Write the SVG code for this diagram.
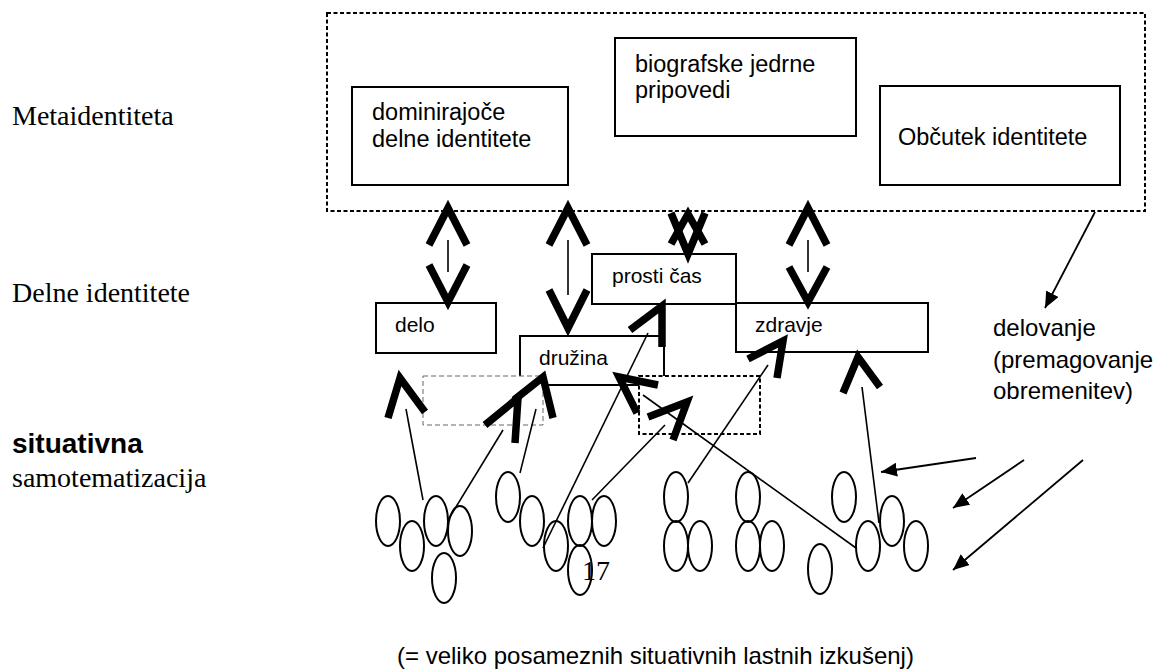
<svg xmlns="http://www.w3.org/2000/svg" width="1159" height="671" viewBox="0 0 1159 671">
<defs>
<style>
.box{fill:#fff;stroke:#000;stroke-width:2}
.dot{fill:#fff;stroke:#000;stroke-width:2;stroke-dasharray:4 2.5}
.dotg{fill:#fff;stroke:#666;stroke-width:1;stroke-dasharray:5 3}
.a{font-family:"Liberation Sans",Arial,sans-serif;fill:#000}
.t{font-family:"Liberation Serif","Times New Roman",serif;fill:#000;font-size:28px}
.chev{fill:none;stroke:#000;stroke-width:7.5;stroke-linejoin:miter;stroke-linecap:butt}
.thin{fill:none;stroke:#000;stroke-width:1.6}
.arr{fill:none;stroke:#000;stroke-width:1.8;marker-end:url(#tri)}
.ell{fill:none;stroke:#000;stroke-width:2}
</style>
<marker id="tri" markerUnits="userSpaceOnUse" markerWidth="18" markerHeight="14" refX="16" refY="7" orient="auto">
<path d="M0,0 L16,7 L0,14 Z" fill="#000"/>
</marker>
</defs>
<rect width="1159" height="671" fill="#fff"/>

<g id="labels">
<text class="t" x="12" y="125">Metaidentiteta</text>
<text class="t" x="12" y="302">Delne identitete</text>
<text class="a" x="12" y="453" font-size="28" font-weight="bold">situativna</text>
<text class="t" x="12" y="487">samotematizacija</text>
</g>

<g id="metaidentiteta">
<rect class="dot" x="327" y="13" width="818" height="198"/>
</g>
<g id="dominirajoce">
<rect class="box" x="352" y="87" width="216" height="98"/>
<text class="a" font-size="23.5" x="372" y="120">dominirajoče</text>
<text class="a" font-size="23.5" x="372" y="147">delne identitete</text>
</g>
<g id="biografske">
<rect class="box" x="615" y="38" width="241" height="98"/>
<text class="a" font-size="23.5" x="635" y="72">biografske jedrne</text>
<text class="a" font-size="23.5" x="635" y="98">pripovedi</text>
</g>
<g id="obcutek">
<rect class="box" x="880" y="86" width="240" height="99"/>
<text class="a" font-size="23.5" x="898" y="145">Občutek identitete</text>
</g>

<g id="delo">
<rect class="box" x="376" y="303" width="120" height="50"/>
<text class="a" font-size="21" x="395" y="332">delo</text>
</g>
<g id="druzina">
<rect class="box" x="520" y="336" width="144" height="49"/>
<text class="a" font-size="21" x="539" y="365">družina</text>
</g>
<g id="prosti">
<rect class="box" x="592" y="254" width="144" height="50"/>
<text class="a" font-size="21" x="612" y="283">prosti čas</text>
</g>
<g id="zdravje">
<rect class="box" x="736" y="303" width="192" height="49"/>
<text class="a" font-size="21" x="755" y="332">zdravje</text>
</g>
<g id="situ1">
<rect class="dotg" x="423" y="376" width="120" height="49"/>
</g>
<g id="situ2">
<rect class="dot" x="639" y="376" width="121" height="58"/>
</g>

<g id="delovanje">
<text class="a" font-size="24" x="993" y="336">delovanje</text>
<text class="a" font-size="24" x="993" y="368">(premagovanje</text>
<text class="a" font-size="24" x="993" y="399">obremenitev)</text>
</g>

<g id="experiences">
<ellipse class="ell" cx="388" cy="521" rx="12" ry="25"/>
<ellipse class="ell" cx="412" cy="546" rx="12" ry="25"/>
<ellipse class="ell" cx="436" cy="521" rx="12" ry="25"/>
<ellipse class="ell" cx="460" cy="531" rx="12" ry="25"/>
<ellipse class="ell" cx="444" cy="578" rx="12" ry="25"/>
<ellipse class="ell" cx="508" cy="497" rx="12" ry="25"/>
<ellipse class="ell" cx="532" cy="521" rx="12" ry="25"/>
<ellipse class="ell" cx="556" cy="546" rx="12" ry="25"/>
<ellipse class="ell" cx="580" cy="521" rx="12" ry="25"/>
<ellipse class="ell" cx="604" cy="521" rx="12" ry="25"/>
<ellipse class="ell" cx="580" cy="570" rx="12" ry="25"/>
<ellipse class="ell" cx="676" cy="497" rx="12" ry="25"/>
<ellipse class="ell" cx="676" cy="546" rx="12" ry="25"/>
<ellipse class="ell" cx="700" cy="546" rx="12" ry="25"/>
<ellipse class="ell" cx="748" cy="497" rx="12" ry="25"/>
<ellipse class="ell" cx="748" cy="546" rx="12" ry="25"/>
<ellipse class="ell" cx="772" cy="546" rx="12" ry="25"/>
<ellipse class="ell" cx="820" cy="569" rx="12" ry="25"/>
<ellipse class="ell" cx="844" cy="497" rx="12" ry="25"/>
<ellipse class="ell" cx="868" cy="546" rx="12" ry="25"/>
<ellipse class="ell" cx="892" cy="521" rx="12" ry="25"/>
<ellipse class="ell" cx="916" cy="546" rx="12" ry="25"/>
</g>

<g id="connectors">
<!-- double arrows between levels -->
<polyline class="chev" points="429,245 448,208 467,245"/>
<line class="thin" x1="448" y1="240" x2="448" y2="272"/>
<polyline class="chev" points="429,265 448,302 467,265"/>

<polyline class="chev" points="549,245 568,208 587,245"/>
<line class="thin" x1="568" y1="240" x2="568" y2="295"/>
<polyline class="chev" points="549,290 568,328 587,290"/>

<polyline class="chev" points="671,244 688,214 705,244"/>
<polyline class="chev" points="671,213 688,254 705,213"/>

<polyline class="chev" points="789,245 808,208 827,245"/>
<line class="thin" x1="808" y1="240" x2="808" y2="272"/>
<polyline class="chev" points="789,267 808,302 827,267"/>

<!-- upward connectors from experiences -->
<line class="thin" x1="423" y1="500" x2="406" y2="409"/>
<polyline class="chev" points="388,418 400,378 425,412"/>

<line class="thin" x1="520" y1="473" x2="536" y2="409"/>
<polyline class="chev" points="514,400 543,377 553,418"/>

<line class="thin" x1="448" y1="520" x2="503" y2="430"/>
<polyline class="chev" points="485,425 518,398 515,443"/>

<line class="thin" x1="543" y1="548" x2="648" y2="333"/>
<polyline class="chev" points="630,330 662,306 662,347"/>

<line class="thin" x1="856" y1="548" x2="643" y2="395"/>
<polyline class="chev" points="658,385 619,377 637,413"/>

<line class="thin" x1="592" y1="500" x2="665" y2="425"/>
<polyline class="chev" points="648,417 687,402 673,440"/>

<line class="thin" x1="688" y1="483" x2="768" y2="365"/>
<polyline class="chev" points="748,359 783,341 777,378"/>

<line class="thin" x1="879" y1="523" x2="862" y2="387"/>
<polyline class="chev" points="843,393 858,357 880,387"/>

<!-- delovanje arrows -->
<line class="arr" x1="1095" y1="212" x2="1045" y2="308"/>
<line class="arr" x1="976" y1="458" x2="881" y2="472"/>
<line class="arr" x1="1024" y1="460" x2="953" y2="508"/>
<line class="arr" x1="1083" y1="460" x2="953" y2="570"/>
</g>

<g id="page">
<text class="t" x="582" y="580">17</text>
</g>
<g id="caption">
<text class="a" font-size="24" x="397" y="664">(= veliko posameznih situativnih lastnih izkušenj)</text>
</g>
</svg>
